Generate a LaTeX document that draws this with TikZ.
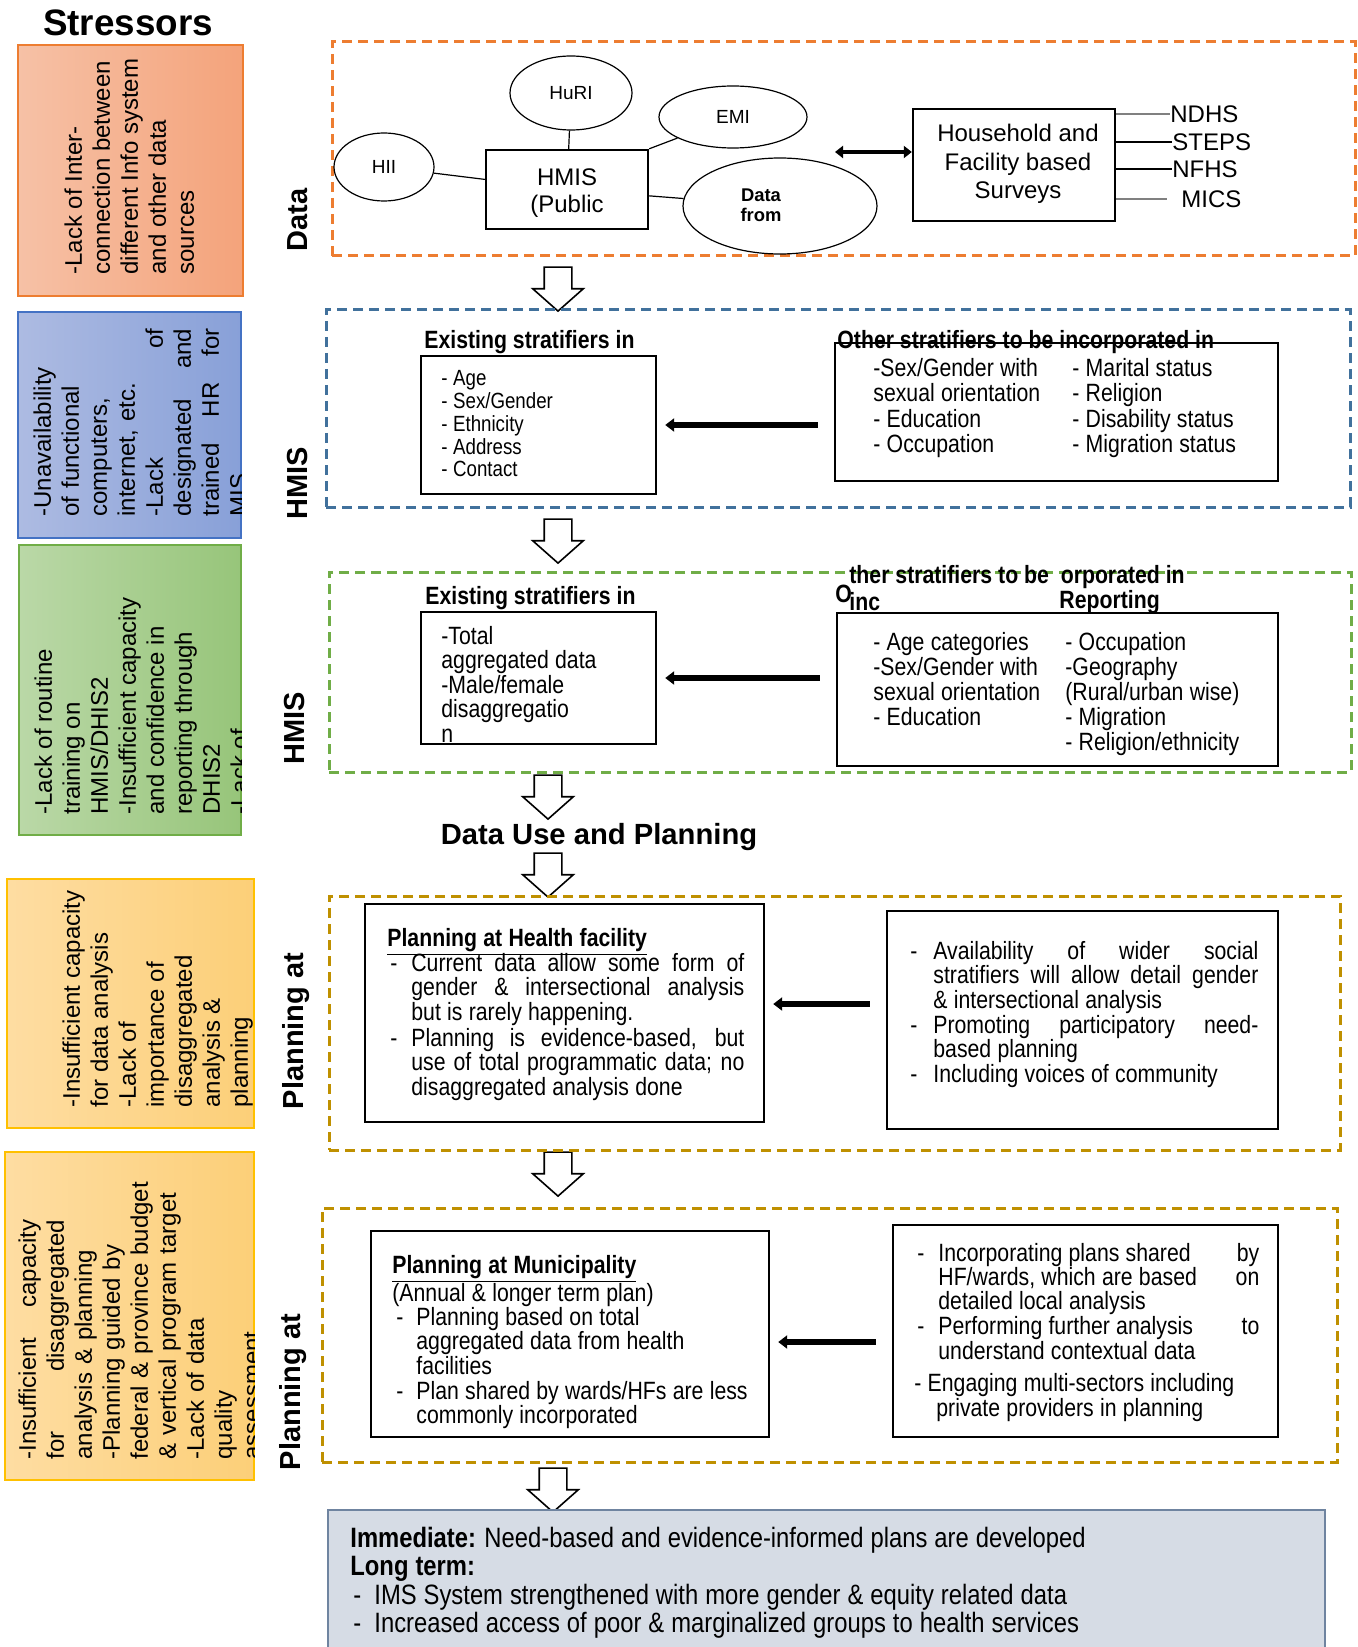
\documentclass[tikz,border=0pt]{standalone}
\usepackage{fontspec}
\setmainfont{Liberation Sans}
\newfontfamily\narrowfont[FakeStretch=0.85]{Liberation Sans}
\usetikzlibrary{positioning,fit,shapes.geometric,shapes.arrows,arrows.meta}
\definecolor{orline}{HTML}{ED7D31}
\definecolor{orleft}{HTML}{F6C1A6}
\definecolor{orright}{HTML}{F4A37B}
\definecolor{blline}{HTML}{4472C4}
\definecolor{blleft}{HTML}{ADBBE2}
\definecolor{blright}{HTML}{88A0D8}
\definecolor{grline}{HTML}{70AD47}
\definecolor{grleft}{HTML}{BAD8A7}
\definecolor{grright}{HTML}{97C57A}
\definecolor{yeline}{HTML}{FFC000}
\definecolor{yeleft}{HTML}{FEDDA2}
\definecolor{yeright}{HTML}{FCCF78}
\definecolor{hmisblue}{HTML}{41719C}
\definecolor{gold}{HTML}{BF9000}
\definecolor{outfill}{HTML}{D6DCE5}
\definecolor{outline}{HTML}{6F84A0}
\newcommand{\spreadline}[2][\linewidth]{\makebox[#1][s]{\spaceskip=.25em plus 1fil\relax#2}}
\tikzset{
  panel/.style={draw, line width=1.5pt, dash pattern=on 5pt off 3pt, inner sep=0pt},
  sbox/.style={draw, line width=0.7pt, inner sep=0pt},
  stxt/.style={rotate=90, anchor=north west, inner sep=0pt, align=left, font=\fontsize{12}{14}\selectfont},
  side/.style={rotate=90, inner sep=0pt, font=\fontsize{14.5}{17}\selectfont\bfseries},
  bub/.style={draw, ellipse, line width=0.6pt, inner sep=0pt, font=\fontsize{9.5}{11}\selectfont},
  tb/.style={draw, line width=1.2pt, inner sep=0pt},
  hd/.style={anchor=west, inner sep=0pt, font=\narrowfont\bfseries\fontsize{12.5}{14}\selectfont},
  nt/.style={anchor=base west, inner sep=0pt, text width=230pt, align=left, font=\narrowfont\fontsize{12.5}{12.3}\selectfont, execute at begin node={\spaceskip=.25em\relax\xspaceskip=.3em\relax}},
  lab/.style={anchor=west, inner sep=0pt, font=\fontsize{12}{14}\selectfont},
  flow/.style={single arrow, draw, fill=white, line width=0.8pt, rotate=-90, minimum height=22pt, minimum width=25pt, single arrow head extend=5.75pt, single arrow tip angle=97, inner xsep=0pt, inner ysep=6.5pt},
  push/.style={line width=2.6pt, -{Triangle[length=4.5pt,width=6.5pt]}, shorten <=8pt, shorten >=4pt}
}

\begin{document}
\begin{tikzpicture}[x=0.5pt,y=-0.5pt]
\useasboundingbox (0,0) rectangle (1358,1647);

% stressors
\node[font=\fontsize{18.4}{22}\selectfont\bfseries] (stress) at (128,23) {Stressors};
\node[sbox, draw=orline, left color=orleft, right color=orright, fit={(18,45) (243,296)}] (s1) {};
\node[sbox, draw=blline, left color=blleft, right color=blright, fit={(18,312) (241,538)}] (s2) {};
\node[sbox, draw=grline, left color=grleft, right color=grright, fit={(19,545) (241,835)}] (s3) {};
\node[sbox, draw=yeline, left color=yeleft, right color=yeright, fit={(7,879) (254,1128)}] (s4) {};
\node[sbox, draw=yeline, left color=yeleft, right color=yeright, fit={(5,1152) (254,1480)}] (s5) {};

\node[stxt] (s1t) at (64,275) {-Lack of Inter-\\connection between\\different Info system\\and other data\\sources};
\begin{scope}
  \clip (s2.south west) rectangle (s2.north east);
  \node[stxt, text width=94pt] (s2t) at (33,517) {-Unavailability\\of functional\\computers,\\internet, etc.\\\spreadline{-Lack of}\\\spreadline{designated and}\\\spreadline{trained HR for}\\MIS};
\end{scope}
\begin{scope}
  \clip (s3.south west) rectangle (s3.north east);
  \node[stxt] (s3t) at (34,815) {-Lack of routine\\training on\\HMIS/DHIS2\\-Insufficient capacity\\and confidence in\\reporting through\\DHIS2\\-Lack of};
\end{scope}
\node[stxt] (s4t) at (62,1108) {-Insufficient capacity\\for data analysis\\-Lack of\\importance of\\disaggregated\\analysis \&\\planning};
\begin{scope}
  \clip (s5.south west) rectangle (s5.north east);
  \node[stxt, text width=150pt] (s5t) at (18,1460) {\spreadline[120pt]{-Insufficient capacity}\\\spreadline[120pt]{for disaggregated}\\analysis \& planning\\-Planning guided by\\federal \& province budget\\\& vertical program target\\-Lack of data\\quality\\assessment};
\end{scope}

% side labels
\node[side] (ldata) at (298,220) {Data};
\node[side] (lhmis1) at (298,483) {HMIS};
\node[side] (lhmis2) at (295,728) {HMIS};
\node[side] (lplan1) at (296,1031) {Planning at};
\node[side] (lplan2) at (293,1392) {Planning at};

% data panel
\node[panel, draw=orline, fit={(332,42) (1355,256)}] (pdata) {};
\node[bub, minimum width=61pt, minimum height=37pt] (huri) at (571,93) {HuRI};
\node[bub, minimum width=74pt, minimum height=31pt] (emi) at (733,117) {EMI};
\node[bub, minimum width=50pt, minimum height=34pt] (hii) at (384,167) {HII};
\node[tb, fit={(486,150) (648,229)}] (hmis) {};
\node[align=center, inner sep=0pt, font=\fontsize{12}{13.5}\selectfont] (hmist) at (567,193) {HMIS\\(Public};
\node[bub, minimum width=97pt, minimum height=48pt] (dfrom) at (780,206) {};
\node[align=center, inner sep=0pt, font=\bfseries\fontsize{9.2}{10}\selectfont] (dfromt) at (761,205) {Data\\from};
\draw[line width=0.6pt] (hii) -- (hmis);
\draw[line width=0.6pt] (huri) -- (hmis);
\draw[line width=0.6pt] (hmis.north east) -- (emi);
\draw[line width=0.6pt] (hmis) -- (dfrom);
\node[tb, fit={(913,109) (1115,221)}] (survey) {};
\node[align=center, inner sep=0pt, font=\fontsize{12}{14.2}\selectfont] (surveyt) at (1018,164) {Household and\\Facility based\\Surveys};
\coordinate (sv) at (835,152);
\draw[line width=2pt, {Triangle[length=4pt,width=6pt]}-{Triangle[length=4pt,width=6pt]}] (sv) -- (survey.west |- sv);
\node[lab] (ndhs) at (1170,114) {NDHS};
\node[lab] (steps) at (1172,142) {STEPS};
\node[lab] (nfhs) at (1172,169) {NFHS};
\node[lab] (mics) at (1181,199) {MICS};
\draw[gray, line width=0.6pt] (survey.east |- ndhs.west) -- (ndhs.west);
\draw[line width=1.2pt] (survey.east |- steps.west) -- (steps.west);
\draw[line width=1.2pt] (survey.east |- nfhs.west) -- (nfhs.west);
\draw[gray, line width=0.6pt] (survey.east |- mics.west) -- ([xshift=-7pt]mics.west);

% flow arrows
\node[flow] (f1) at (558,283) {};
\node[flow] (f2) at (558,535) {};
\node[flow] (f3) at (548,791) {};
\node[flow] (f4) at (548,869) {};
\node[flow] (f5) at (558,1168) {};
\node[flow] (f6) at (553,1484) {};

% HMIS panel 1
\node[panel, draw=hmisblue, fit={(326,310) (1350,507)}] (ph1) {};
\node[hd] (ex1h) at (424,342) {Existing stratifiers in};
\node[tb, fit={(421,356) (656,494)}] (ex1) {};
\node[nt, font=\narrowfont\fontsize{11}{11.35}\selectfont] (ex1l) at (441,386) {- Age\\- Sex/Gender\\- Ethnicity\\- Address\\- Contact};
\node[tb, fit={(835,343) (1278,481)}] (oth1) {};
\node[hd] (oth1h) at (837,342) {Other stratifiers to be incorporated in};
\node[nt, font=\narrowfont\fontsize{12.5}{12.8}\selectfont] (oth1a) at (873,376) {-Sex/Gender with\\sexual orientation\\- Education\\- Occupation};
\node[nt, font=\narrowfont\fontsize{12.5}{12.8}\selectfont] (oth1b) at (1072,376) {- Marital status\\- Religion\\- Disability status\\- Migration status};
\draw[push] (oth1.west |- ex1.east) -- (ex1.east);

% HMIS panel 2
\node[panel, draw=grline, fit={(329,572) (1351,772)}] (ph2) {};
\node[hd] (ex2h) at (425,598) {Existing stratifiers in};
\node[tb, fit={(421,612) (656,744)}] (ex2) {};
\begin{scope}
  \clip (ex2.south west) rectangle (ex2.north east);
  \node[nt, font=\narrowfont\fontsize{12.5}{12.25}\selectfont] (ex2l) at (441,644) {-Total\\aggregated data\\-Male/female\\disaggregatio\\n};
\end{scope}
\node[hd] (oth2h) at (849,577) {ther stratifiers to be\ \ orporated in};
\node[hd] (oth2o) at (835,594) {O};
\node[hd] (oth2i) at (849,602) {inc};
\node[hd] (oth2r) at (1059,602) {Reporting};
\node[tb, fit={(837,613) (1278,766)}] (oth2) {};
\node[nt, font=\narrowfont\fontsize{12.5}{12.6}\selectfont] (oth2a) at (873,650) {- Age categories\\-Sex/Gender with\\sexual orientation\\- Education};
\node[nt, font=\narrowfont\fontsize{12.5}{12.6}\selectfont] (oth2b) at (1065,650) {- Occupation\\-Geography\\(Rural/urban wise)\\- Migration\\- Religion/ethnicity};
\draw[push] (oth2.west |- ex2.east) -- (ex2.east);

\node[font=\fontsize{14.6}{17}\selectfont\bfseries] (dup) at (599,837) {Data Use and Planning};

% planning at health facility
\node[panel, draw=gold, fit={(329,896) (1340,1150)}] (pp1) {};
\node[tb, fit={(365,904) (764,1122)}] (hf) {};
\node[nt, font=\narrowfont\bfseries\fontsize{12.5}{12.3}\selectfont] (hft) at (387,946) {\underline{Planning at Health facility}};
\node[nt] (hfd1) at (390,971) {-};
\node[nt, text width=166.5pt] (hf1) at (411,971) {\spreadline{Current data allow some form of}\\\spreadline{gender \& intersectional analysis}\\but is rarely happening.};
\node[nt] (hfd2) at (390,1046) {-};
\node[nt, text width=166.5pt] (hf2) at (411,1046) {\spreadline{Planning is evidence-based, but}\\\spreadline{use of total programmatic data; no}\\disaggregated analysis done};
\node[tb, fit={(887,911) (1278,1129)}] (hfr) {};
\node[nt] (hfrd1) at (910,959) {-};
\node[nt, text width=162.5pt] (hfr1) at (933,959) {\spreadline{Availability of wider social}\\\spreadline{stratifiers will allow detail gender}\\\& intersectional analysis};
\node[nt] (hfrd2) at (910,1033) {-};
\node[nt, text width=162.5pt] (hfr2) at (933,1033) {\spreadline{Promoting participatory need-}\\based planning};
\node[nt] (hfrd3) at (910,1082) {-};
\node[nt] (hfr3) at (933,1082) {Including voices of community};
\draw[push] (hfr.west |- 0,1004) -- (hf.east |- 0,1004);

% planning at municipality
\node[panel, draw=gold, fit={(322,1208) (1337,1462)}] (pp2) {};
\node[tb, fit={(371,1231) (769,1437)}] (mun) {};
\node[nt, font=\narrowfont\bfseries\fontsize{12.5}{12.3}\selectfont] (munt) at (392,1273) {\underline{Planning at Municipality}};
\node[nt] (muna) at (392,1301) {(Annual \& longer term plan)};
\node[nt] (mund1) at (396,1325) {-};
\node[nt, font=\narrowfont\fontsize{12.5}{12.4}\selectfont] (mun1) at (416,1325) {Planning based on total\\aggregated data from health\\facilities};
\node[nt] (mund2) at (396,1399) {-};
\node[nt, font=\narrowfont\fontsize{12.5}{12.4}\selectfont] (mun2) at (416,1399) {Plan shared by wards/HFs are less\\commonly incorporated};
\node[tb, fit={(893,1225) (1278,1437)}] (munr) {};
\node[nt] (munrd1) at (917,1261) {-};
\node[nt, text width=160.5pt, font=\narrowfont\fontsize{12.5}{12}\selectfont] (munr1) at (938,1261) {\makebox[\linewidth][l]{Incorporating plans shared\hfill by}\\\makebox[\linewidth][l]{HF/wards, which are based\hfill on}\\detailed local analysis};
\node[nt] (munrd2) at (917,1334) {-};
\node[nt, text width=160.5pt, font=\narrowfont\fontsize{12.5}{12.5}\selectfont] (munr2) at (938,1334) {\makebox[\linewidth][l]{Performing further analysis\hfill to}\\understand contextual data};
\node[nt, font=\narrowfont\fontsize{12.5}{12.5}\selectfont] (munr3) at (914,1391) {- Engaging multi-sectors including\\\hspace*{11pt}private providers in planning};
\draw[push] (munr.west |- 0,1342) -- (mun.east |- 0,1342);

% outcome
\node[draw=outline, fill=outfill, line width=1pt, inner sep=0pt, fit={(328,1510) (1325,1670)}] (goal) {};
\node[nt, text width=480pt, font=\narrowfont\fontsize{14}{14.2}\selectfont] (goal1) at (350,1547) {\textbf{Immediate:} Need-based and evidence-informed plans are developed\\\textbf{Long term:}};
\node[nt, text width=20pt, font=\narrowfont\fontsize{14}{14.2}\selectfont] (goald) at (353,1604) {-\\-};
\node[nt, text width=480pt, font=\narrowfont\fontsize{14}{14.2}\selectfont] (goal2) at (374,1604) {IMS System strengthened with more gender \& equity related data\\Increased access of poor \& marginalized groups to health services};
\end{tikzpicture}
\end{document}
